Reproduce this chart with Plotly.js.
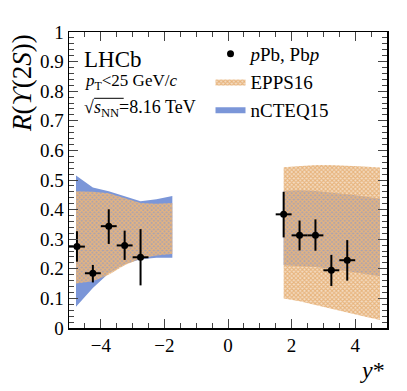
<!DOCTYPE html>
<html>
<head>
<meta charset="utf-8">
<script src="https://cdn.plot.ly/plotly-3.0.1.min.js"></script>
<style>body{margin:0;background:#fff}</style>
</head>
<body>
<div id="chart" style="width:407px;height:391px"></div>
<script>
// measured points, pPb (forward) and Pbp (backward)
var yStar = [-4.75, -4.25, -3.75, -3.25, -2.75, 1.75, 2.25, 2.75, 3.25, 3.75];
var ratio = [0.275, 0.185, 0.344, 0.279, 0.239, 0.384, 0.313, 0.313, 0.195, 0.229];
var errUp = [0.052, 0.028, 0.057, 0.050, 0.095, 0.076, 0.050, 0.054, 0.052, 0.068];
var errDn = [0.051, 0.031, 0.060, 0.049, 0.095, 0.078, 0.051, 0.052, 0.053, 0.069];
var binHalf = [0.25, 0.25, 0.25, 0.25, 0.25, 0.25, 0.25, 0.25, 0.25, 0.25];

// theory bands
var bwdX = [-4.78, -4.25, -3.75, -3.25, -2.75, -2.25, -1.75];
var ncteqBwdHi = [0.515, 0.475, 0.462, 0.445, 0.428, 0.435, 0.446];
var ncteqBwdLo = [0.072, 0.135, 0.185, 0.215, 0.232, 0.237, 0.237];
var eppsBwdHi = [0.462, 0.460, 0.455, 0.438, 0.422, 0.420, 0.422];
var eppsBwdLo = [0.150, 0.158, 0.180, 0.212, 0.235, 0.245, 0.250];

var fwdX = [1.75, 2.25, 2.75, 3.25, 3.75, 4.25, 4.78];
var ncteqFwdHi = [0.463, 0.465, 0.463, 0.458, 0.452, 0.445, 0.437];
var ncteqFwdLo = [0.212, 0.210, 0.206, 0.200, 0.192, 0.184, 0.175];
var eppsFwdHi = [0.543, 0.548, 0.551, 0.551, 0.549, 0.546, 0.542];
var eppsFwdLo = [0.100, 0.090, 0.078, 0.066, 0.053, 0.040, 0.027];

function band(x, hi, lo) {
  return {
    x: x.concat(x.slice().reverse()),
    y: hi.concat(lo.slice().reverse())
  };
}

var blue = '#7b96d8';
var orange = '#e7b47d';

function bandTrace(x, hi, lo, name, isEpps, show) {
  var b = band(x, hi, lo);
  var t = {
    x: b.x, y: b.y, type: 'scatter', mode: 'lines', fill: 'toself',
    line: {width: 0}, name: name, legendgroup: name, showlegend: show,
    hoverinfo: 'skip'
  };
  if (isEpps) {
    t.fillcolor = 'rgba(0,0,0,0)';
    t.fillpattern = {shape: 'x', fgcolor: orange, bgcolor: 'rgba(231,180,125,0.45)', size: 3, solidity: 0.6};
  } else {
    t.fillcolor = blue;
  }
  return t;
}

var data = [
  bandTrace(bwdX, ncteqBwdHi, ncteqBwdLo, 'nCTEQ15', false, true),
  bandTrace(fwdX, ncteqFwdHi, ncteqFwdLo, 'nCTEQ15', false, false),
  bandTrace(bwdX, eppsBwdHi, eppsBwdLo, 'EPPS16', true, true),
  bandTrace(fwdX, eppsFwdHi, eppsFwdLo, 'EPPS16', true, false),
  {
    x: yStar, y: ratio, type: 'scatter', mode: 'markers',
    name: '<i>p</i>Pb, Pb<i>p</i>',
    marker: {color: '#000', size: 7},
    error_x: {type: 'data', array: binHalf, color: '#000', thickness: 2, width: 0},
    error_y: {type: 'data', array: errUp, arrayminus: errDn, symmetric: false, color: '#000', thickness: 2, width: 0}
  }
];

var serif = 'Liberation Serif';

var layout = {
  width: 407, height: 391,
  margin: {l: 69, r: 20, t: 32, b: 63},
  paper_bgcolor: '#fff', plot_bgcolor: '#fff',
  font: {family: serif, size: 19, color: '#000'},
  showlegend: true,
  legend: {
    x: 0.445, y: 0.99, xanchor: 'left', yanchor: 'top',
    traceorder: 'reversed', bgcolor: 'rgba(0,0,0,0)',
    font: {family: serif, size: 19}, itemwidth: 30, tracegroupgap: 0
  },
  xaxis: {
    range: [-5, 5], dtick: 2, tick0: 0, ticks: 'inside', ticklen: 9, tickwidth: 1,
    minor: {dtick: 0.5, ticks: 'inside', ticklen: 5, tickwidth: 1},
    mirror: 'allticks', showline: true, linecolor: '#000', linewidth: 1.5,
    showgrid: false, zeroline: false, tickformat: 'd',
    tickfont: {family: serif, size: 19},
    title: {text: ''}
  },
  yaxis: {
    range: [0, 1], dtick: 0.1, tick0: 0, ticks: 'inside', ticklen: 9, tickwidth: 1,
    minor: {dtick: 0.02, ticks: 'inside', ticklen: 5, tickwidth: 1},
    mirror: 'allticks', showline: true, linecolor: '#000', linewidth: 1.5,
    showgrid: false, zeroline: false,
    tickfont: {family: serif, size: 19},
    title: {text: ''}
  },
  shapes: [
    {type: 'line', xref: 'paper', yref: 'paper', x0: 0.079, x1: 0.172, y0: 0.776, y1: 0.776,
     line: {color: '#000', width: 1}}
  ],
  annotations: [
    {xref: 'paper', yref: 'paper', x: -0.148, y: 1.0, xanchor: 'center', yanchor: 'top',
     textangle: -90, showarrow: false, font: {family: serif, size: 27},
     text: '<i>R</i>(<i>ϒ</i>(2<i>S</i>))'},
    {xref: 'paper', yref: 'paper', x: 1.0, y: -0.09, xanchor: 'right', yanchor: 'top',
     showarrow: false, font: {family: serif, size: 24}, text: '<i>y</i>*'},
    {xref: 'paper', yref: 'paper', x: 0.04, y: 0.906, xanchor: 'left', yanchor: 'middle',
     showarrow: false, font: {family: serif, size: 23}, text: 'LHCb'},
    {xref: 'paper', yref: 'paper', x: 0.045, y: 0.832, xanchor: 'left', yanchor: 'middle',
     showarrow: false, font: {family: serif, size: 17}, text: '<i>p</i><sub>T</sub><25 GeV/<i>c</i>'},
    {xref: 'paper', yref: 'paper', x: 0.04, y: 0.743, xanchor: 'left', yanchor: 'middle',
     showarrow: false, font: {family: serif, size: 18},
     text: '√<i>s</i><sub>NN</sub>=8.16 TeV'}
  ]
};

Plotly.newPlot('chart', data, layout, {displayModeBar: false, staticPlot: true});
</script>
</body>
</html>
